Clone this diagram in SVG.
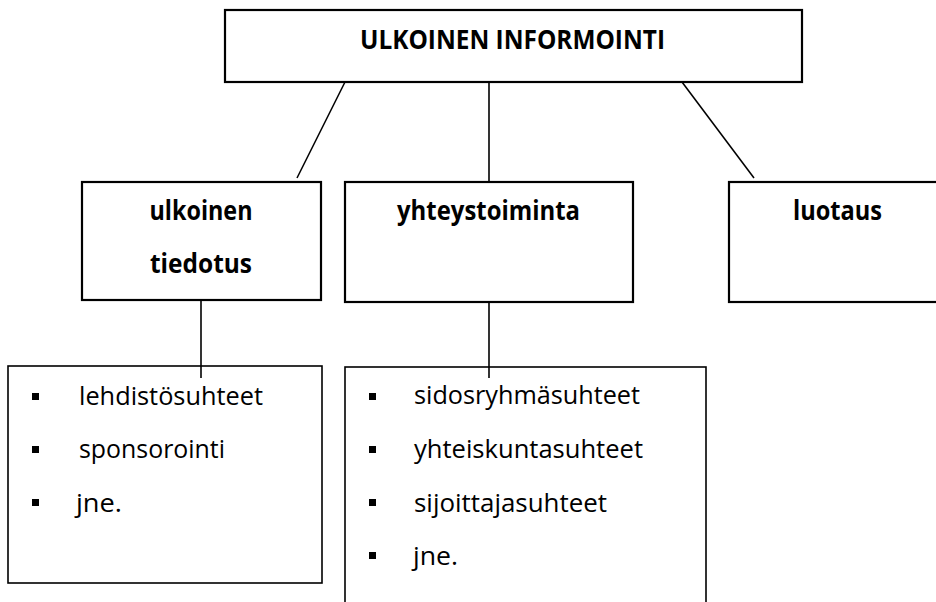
<svg xmlns="http://www.w3.org/2000/svg" width="936" height="602" viewBox="0 0 936 602">
<style>
.box{fill:#fff;stroke:#000;stroke-width:2.2}
.lbox{fill:#fff;stroke:#000;stroke-width:1.6}
.conn line{stroke:#000;stroke-width:1.6}
.b{font-family:"Open Sans","Liberation Sans",sans-serif;font-weight:bold;font-size:26px;fill:#000;text-anchor:middle}
.r{font-family:"Open Sans","Liberation Sans",sans-serif;font-size:25px;fill:#000}
.bul{fill:#000}
</style>
<rect width="936" height="602" fill="#fff"/>
<g id="top">
<rect class="box" x="225" y="10" width="577" height="72"/>
<text class="b" x="512.5" y="49" textLength="305" lengthAdjust="spacingAndGlyphs">ULKOINEN INFORMOINTI</text>
</g>
<g id="tiedotus">
<rect class="box" x="82" y="182" width="239" height="118"/>
<text class="b" x="201" y="220" textLength="103" lengthAdjust="spacingAndGlyphs">ulkoinen</text>
<text class="b" x="201" y="273" textLength="102" lengthAdjust="spacingAndGlyphs">tiedotus</text>
</g>
<g id="yhteys">
<rect class="box" x="345" y="182" width="288" height="120"/>
<text class="b" x="488.5" y="220" textLength="183" lengthAdjust="spacingAndGlyphs">yhteystoiminta</text>
</g>
<g id="luotaus">
<rect class="box" x="729" y="182" width="220" height="120"/>
<text class="b" x="837.5" y="220" textLength="89" lengthAdjust="spacingAndGlyphs">luotaus</text>
</g>
<g id="list1">
<rect class="lbox" x="8" y="366" width="314" height="217"/>
<rect class="bul" x="32" y="393" width="7" height="7"/>
<rect class="bul" x="32" y="446" width="7" height="7"/>
<rect class="bul" x="32" y="499" width="7" height="7"/>
<text class="r" x="79" y="405" textLength="184" lengthAdjust="spacingAndGlyphs">lehdistösuhteet</text>
<text class="r" x="79" y="458" textLength="146" lengthAdjust="spacingAndGlyphs">sponsorointi</text>
<text class="r" x="76" y="512" textLength="46" lengthAdjust="spacingAndGlyphs">jne.</text>
</g>
<g id="list2">
<rect class="lbox" x="345" y="367" width="361" height="260"/>
<rect class="bul" x="369" y="393" width="7" height="7"/>
<rect class="bul" x="369" y="446" width="7" height="7"/>
<rect class="bul" x="369" y="499" width="7" height="7"/>
<rect class="bul" x="369" y="552" width="7" height="7"/>
<text class="r" x="414" y="404" textLength="226" lengthAdjust="spacingAndGlyphs">sidosryhmäsuhteet</text>
<text class="r" x="414" y="458" textLength="229" lengthAdjust="spacingAndGlyphs">yhteiskuntasuhteet</text>
<text class="r" x="414" y="512" textLength="193" lengthAdjust="spacingAndGlyphs">sijoittajasuhteet</text>
<text class="r" x="413" y="565" textLength="45" lengthAdjust="spacingAndGlyphs">jne.</text>
</g>
<g id="connectors" class="conn">
<line x1="345" y1="82" x2="297" y2="178"/>
<line x1="489" y1="82" x2="489" y2="182"/>
<line x1="682" y1="82" x2="754" y2="178"/>
<line x1="201" y1="300" x2="201" y2="378"/>
<line x1="489" y1="302" x2="489" y2="378"/>
</g>
</svg>
